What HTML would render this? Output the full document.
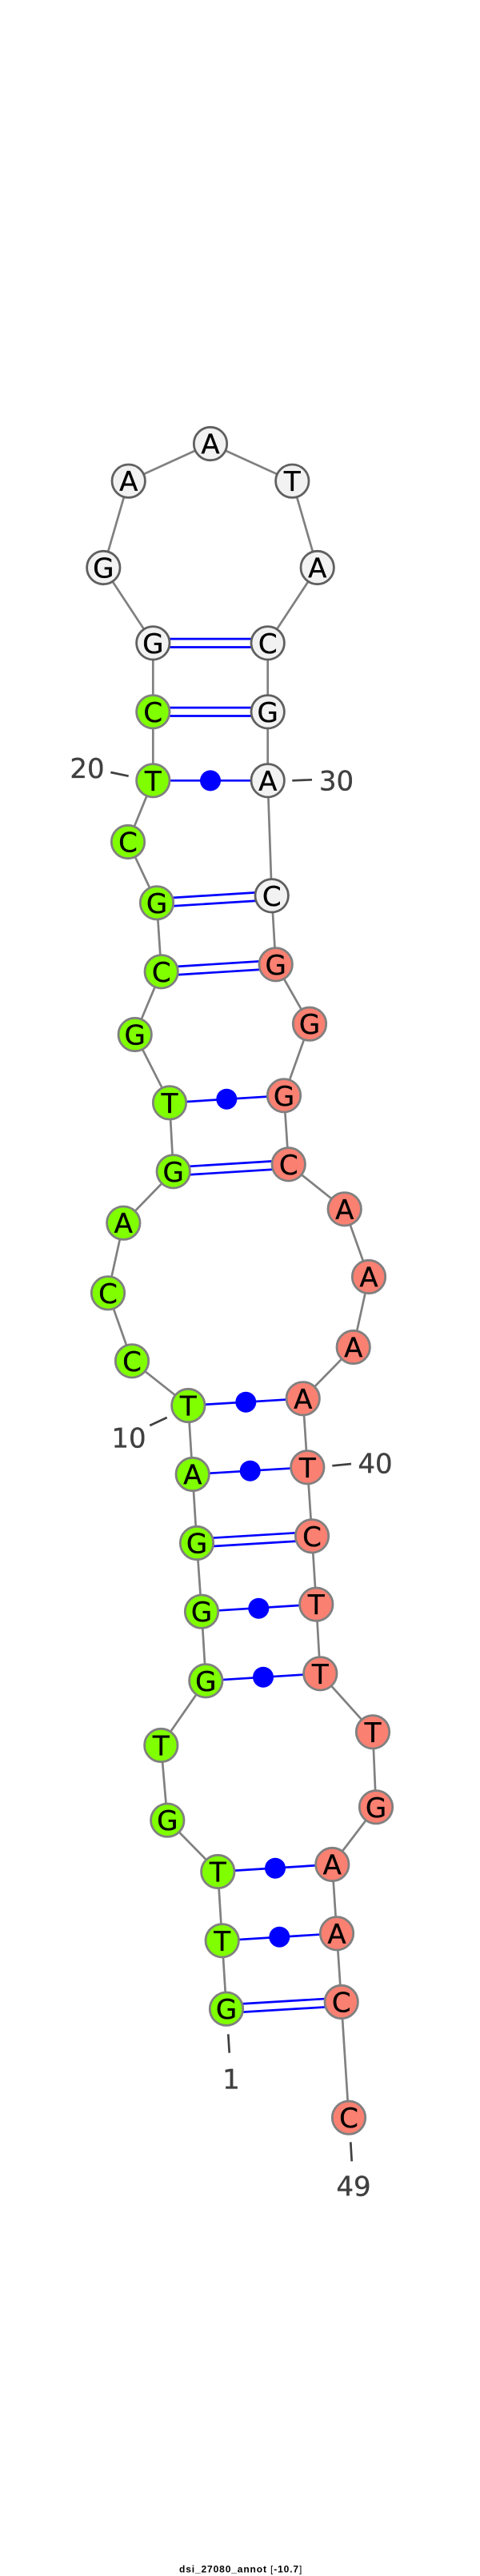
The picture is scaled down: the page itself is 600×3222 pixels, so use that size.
<!DOCTYPE html>
<html>
<head>
<meta charset="utf-8">
<style>
html,body{margin:0;padding:0;background:#fff;width:600px;height:3222px;overflow:hidden}
svg{display:block}
.n{font-family:"DejaVu Sans",sans-serif;font-size:34px;text-anchor:middle;fill:#000;stroke:#000;stroke-width:.35px}
.l{font-family:"DejaVu Sans",sans-serif;font-size:34px;text-anchor:middle;fill:#404040;stroke:#404040;stroke-width:.35px}
.g circle{fill:#7fff00;stroke:#808080;stroke-width:2.8}
.r circle{fill:#fa8072;stroke:#808080;stroke-width:2.8}
.w circle{fill:#f2f2f2;stroke:#606060;stroke-width:2.8}
</style>
</head>
<body>
<svg width="600" height="3222" viewBox="0 0 600 3222" xmlns="http://www.w3.org/2000/svg">
<rect width="600" height="3222" fill="#fff"/>
<polyline fill="none" stroke="#808080" stroke-width="2.7" points="283,2512.7 277.7,2427.3 272.3,2341 209.3,2276.7 201.3,2183 257.3,2102.3 252,2015.7 246,1930 240.7,1844 235.3,1758 165,1702.3 135,1617.3 154.3,1529.7 216.7,1465.3 212,1379.3 168.7,1294 201.7,1215.3 196,1129.3 160,1053 191.3,976.3 191.3,890.3 191.3,804.3 129.3,710 160.7,601.7 263,555 365.3,601.7 396.7,710 334.7,804.3 334.7,890.3 334.7,976.3 339.7,1120.3 344.7,1206.3 387,1280.7 355,1370.3 360.7,1456.3 430.7,1512.3 461,1597 441.7,1685 378.7,1749.3 384.3,1835.3 390,1921.3 395.3,2006.7 400.3,2093.3 466,2166.3 470,2260.3 415.3,2332 421,2418.3 426.7,2504 436,2648.7"/>
<g stroke="#0000ff" stroke-width="2.7" fill="none">
<path d="M283,2507.5L426.7,2498.8M283,2517.9L426.7,2509.2"/>
<path d="M246,1924.8L390,1916.1M246,1935.2L390,1926.5"/>
<path d="M216.7,1460.1L360.7,1451.1M216.7,1470.5L360.7,1461.5"/>
<path d="M201.7,1210.1L344.7,1201.1M201.7,1220.5L344.7,1211.5"/>
<path d="M196,1124.1L339.7,1115.1M196,1134.5L339.7,1125.5"/>
<path d="M191.3,885.1H334.7M191.3,895.5H334.7"/>
<path d="M191.3,799.1H334.7M191.3,809.5H334.7"/>
<path d="M277.7,2427.3L421,2418.3M272.3,2341L415.3,2332M257.3,2102.3L400.3,2093.3M252,2015.7L395.3,2006.7M240.7,1844L384.3,1835.3M235.3,1758L378.7,1749.3M212,1379.3L355,1370.3M191.3,976.3H334.7"/>
</g>
<g fill="#0000ff">
<circle cx="349.3" cy="2422.7" r="13"/>
<circle cx="344" cy="2336.7" r="13"/>
<circle cx="329" cy="2097.7" r="13"/>
<circle cx="323.3" cy="2011.7" r="13"/>
<circle cx="312.7" cy="1839.7" r="13"/>
<circle cx="307.3" cy="1753.7" r="13"/>
<circle cx="283.3" cy="1374.7" r="13"/>
<circle cx="263" cy="976.4" r="13"/>
</g>
<g stroke="#404040" stroke-width="2.7" fill="none">
<path d="M138.3,966L160.7,970.7"/>
<path d="M365.3,976.3L390,975.3"/>
<path d="M187.3,1783L208.7,1773"/>
<path d="M415.3,1833.3L439,1831"/>
<path d="M285.3,2544.3L286.7,2567.7"/>
<path d="M438.3,2679.3L439.7,2703.3"/>
</g>
<g class="g">
<circle cx="283" cy="2512.7" r="20.7"/><circle cx="277.7" cy="2427.3" r="20.7"/><circle cx="272.3" cy="2341" r="20.7"/><circle cx="209.3" cy="2276.7" r="20.7"/><circle cx="201.3" cy="2183" r="20.7"/><circle cx="257.3" cy="2102.3" r="20.7"/><circle cx="252" cy="2015.7" r="20.7"/><circle cx="246" cy="1930" r="20.7"/><circle cx="240.7" cy="1844" r="20.7"/><circle cx="235.3" cy="1758" r="20.7"/><circle cx="165" cy="1702.3" r="20.7"/><circle cx="135" cy="1617.3" r="20.7"/><circle cx="154.3" cy="1529.7" r="20.7"/><circle cx="216.7" cy="1465.3" r="20.7"/><circle cx="212" cy="1379.3" r="20.7"/><circle cx="168.7" cy="1294" r="20.7"/><circle cx="201.7" cy="1215.3" r="20.7"/><circle cx="196" cy="1129.3" r="20.7"/><circle cx="160" cy="1053" r="20.7"/><circle cx="191.3" cy="976.3" r="20.7"/><circle cx="191.3" cy="890.3" r="20.7"/>
</g>
<g class="w">
<circle cx="191.3" cy="804.3" r="20.7"/><circle cx="129.3" cy="710" r="20.7"/><circle cx="160.7" cy="601.7" r="20.7"/><circle cx="263" cy="555" r="20.7"/><circle cx="365.3" cy="601.7" r="20.7"/><circle cx="396.7" cy="710" r="20.7"/><circle cx="334.7" cy="804.3" r="20.7"/><circle cx="334.7" cy="890.3" r="20.7"/><circle cx="334.7" cy="976.3" r="20.7"/><circle cx="339.7" cy="1120.3" r="20.7"/>
</g>
<g class="r">
<circle cx="344.7" cy="1206.3" r="20.7"/><circle cx="387" cy="1280.7" r="20.7"/><circle cx="355" cy="1370.3" r="20.7"/><circle cx="360.7" cy="1456.3" r="20.7"/><circle cx="430.7" cy="1512.3" r="20.7"/><circle cx="461" cy="1597" r="20.7"/><circle cx="441.7" cy="1685" r="20.7"/><circle cx="378.7" cy="1749.3" r="20.7"/><circle cx="384.3" cy="1835.3" r="20.7"/><circle cx="390" cy="1921.3" r="20.7"/><circle cx="395.3" cy="2006.7" r="20.7"/><circle cx="400.3" cy="2093.3" r="20.7"/><circle cx="466" cy="2166.3" r="20.7"/><circle cx="470" cy="2260.3" r="20.7"/><circle cx="415.3" cy="2332" r="20.7"/><circle cx="421" cy="2418.3" r="20.7"/><circle cx="426.7" cy="2504" r="20.7"/><circle cx="436" cy="2648.7" r="20.7"/>
</g>
<g class="n">
<text x="283" y="2525.2">G</text><text x="277.7" y="2439.8">T</text><text x="272.3" y="2353.5">T</text><text x="209.3" y="2289.2">G</text><text x="201.3" y="2195.5">T</text><text x="257.3" y="2114.8">G</text><text x="252" y="2028.2">G</text><text x="246" y="1942.5">G</text><text x="240.7" y="1856.5">A</text><text x="235.3" y="1770.5">T</text><text x="165" y="1714.8">C</text><text x="135" y="1629.8">C</text><text x="154.3" y="1542.2">A</text><text x="216.7" y="1477.8">G</text><text x="212" y="1391.8">T</text><text x="168.7" y="1306.5">G</text><text x="201.7" y="1227.8">C</text><text x="196" y="1141.8">G</text><text x="160" y="1065.5">C</text><text x="191.3" y="988.8">T</text><text x="191.3" y="902.8">C</text><text x="191.3" y="816.8">G</text><text x="129.3" y="722.5">G</text><text x="160.7" y="614.2">A</text><text x="263" y="567.5">A</text><text x="365.3" y="614.2">T</text><text x="396.7" y="722.5">A</text><text x="334.7" y="816.8">C</text><text x="334.7" y="902.8">G</text><text x="334.7" y="988.8">A</text><text x="339.7" y="1132.8">C</text><text x="344.7" y="1218.8">G</text><text x="387" y="1293.2">G</text><text x="355" y="1382.8">G</text><text x="360.7" y="1468.8">C</text><text x="430.7" y="1524.8">A</text><text x="461" y="1609.5">A</text><text x="441.7" y="1697.5">A</text><text x="378.7" y="1761.8">A</text><text x="384.3" y="1847.8">T</text><text x="390" y="1933.8">C</text><text x="395.3" y="2019.2">T</text><text x="400.3" y="2105.8">T</text><text x="466" y="2178.8">T</text><text x="470" y="2272.8">G</text><text x="415.3" y="2344.5">A</text><text x="421" y="2430.8">A</text><text x="426.7" y="2516.5">C</text><text x="436" y="2661.2">C</text>
</g>
<g class="l">
<text x="109" y="973">20</text>
<text x="420.5" y="988.3">30</text>
<text x="161" y="1810.7">10</text>
<text x="469" y="1842.3">40</text>
<text x="289" y="2612.3">1</text>
<text x="442" y="2746.7">49</text>
</g>
<text x="224" y="3217.3" textLength="153.3" lengthAdjust="spacing" font-family="'Liberation Sans',sans-serif" font-size="12" font-weight="bold" fill="#000">dsi_27080_annot <tspan font-weight="normal">[</tspan>-10.7<tspan font-weight="normal">]</tspan></text>
</svg>
</body>
</html>
